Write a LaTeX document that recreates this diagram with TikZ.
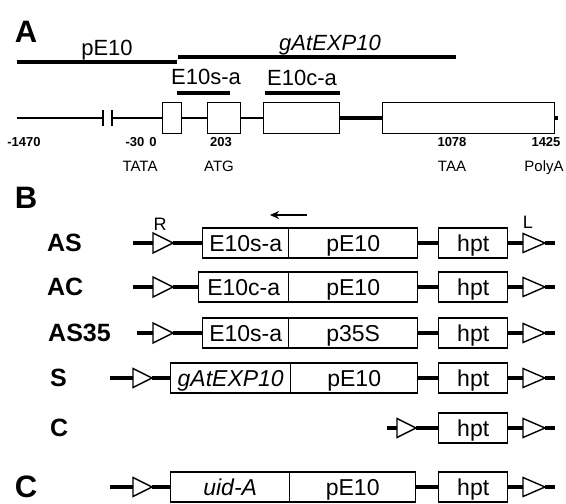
\documentclass[tikz,border=0pt]{standalone}
\usepackage{fontspec}
\setmainfont{Liberation Sans}
\usetikzlibrary{arrows.meta}
\newcommand\fs[1]{\fontsize{#1}{#1}\selectfont}
% triangle: name, x-left, y, width, half-height
\newcommand\tri[5]{%
  \coordinate (#1l) at (#2,#3);
  \coordinate (#1r) at ({#2+#4},#3);
  \draw[trist] (#2,{#3-#5}) -- ({#2+#4},#3) -- (#2,{#3+#5}) -- cycle;}
% right-hand end of a construct: prefix, y
\newcommand\rside[2]{%
  \coordinate (#1E) at (555,#2);
  \draw[connk] (#1h.east) -- (523,#2);
  \tri{#1R}{523}{#2}{22}{9.5}
  \draw[conn] (#1Rr) -- (#1E);}
\begin{document}
\begin{tikzpicture}[x=1pt,y=-1pt,
  bx/.style={draw, line width=1.4pt, inner sep=0pt, minimum height=30pt,
    text height=16.5pt, text depth=0pt, font=\fs{23}, anchor=west},
  ex/.style={draw, line width=1.4pt, inner sep=0pt, minimum height=31pt, anchor=west},
  conn/.style={line width=3.2pt},
  connk/.style={line width=4.2pt},
  glin/.style={line width=2.6pt},
  gthick/.style={line width=4.8pt},
  bar/.style={line width=3.2pt},
  trist/.style={draw, line width=1.4pt, fill=white, line join=miter},
  panel/.style={font=\fs{31}\bfseries, inner sep=0pt, anchor=base},
  rowl/.style={font=\fs{25}\bfseries, inner sep=0pt, anchor=west},
  lab/.style={font=\fs{22}, inner sep=0pt, anchor=base},
  num/.style={font=\fs{13}\bfseries, inner sep=0pt, anchor=base},
  site/.style={font=\fs{15}, inner sep=0pt, anchor=base},
  rl/.style={font=\fs{18}, inner sep=0pt, anchor=base}]
\useasboundingbox (0,0) rectangle (566,504);

%%%%% Panel A
\node[panel] (pA) at (26,42) {A};
\node[lab] (tpE) at (107,55) {pE10};
\node[lab] (tgA) at (330,50) {\itshape gAtEXP10};
\node[lab] (tEs) at (206,84) {E10s-a};
\node[lab] (tEc) at (302,85) {E10c-a};
\draw[bar] (17,62) -- (177,62);
\draw[bar] (178,57) -- (456,57);
\draw[bar] (177,93) -- (230,93);
\draw[bar] (265,93) -- (340,93);

\coordinate (gs) at (17,118);
\coordinate (b1) at (103,118);
\coordinate (b2) at (112,118);
\coordinate (ge) at (558,118);
\node[ex, minimum width=19pt] (e1) at (162,118) {};
\node[ex, minimum width=33pt] (e2) at (207,118) {};
\node[ex, minimum width=76pt] (e3) at (263,118) {};
\node[ex, minimum width=172pt] (e4) at (382,118) {};
\draw[glin] (gs) -- (b1);
\draw[glin] (b2) -- (e1.west);
\draw[line width=1.8pt] (103,110) -- (103,126) (112,110) -- (112,126);
\draw[glin] (e1.east) -- (e2.west);
\draw[glin] (e2.east) -- (e3.west);
\draw[gthick] (e3.east) -- (e4.west);
\draw[gthick] (e4.east) -- (ge);

\node[num] (n1) at (24,146) {-1470};
\node[num] (n2) at (135,146) {-30};
\node[num] (n3) at (153,146) {0};
\node[num] (n4) at (221,146) {203};
\node[num] (n5) at (452,146) {1078};
\node[num] (n6) at (546,146) {1425};
\node[site] (s1) at (140,171) {TATA};
\node[site] (s2) at (219,171) {ATG};
\node[site] (s3) at (452,171) {TAA};
\node[site] (s4) at (544,171) {PolyA};

%%%%% Panel B
\node[panel] (pB) at (26,208) {B};
\node[rl] (tR) at (160,230) {R};
\node[rl] (tL) at (528,228) {L};
\coordinate (arS) at (307,215);
\coordinate (arE) at (270,215);
\draw[line width=1.5pt, -{Stealth[length=9pt,width=8pt]}] (arS) -- (arE);

% AS
\node[rowl] (lAS) at (47,243) {AS};
\coordinate (asS) at (133,243);
\node[bx, minimum width=86pt] (as1) at (202,243) {E10s-a};
\node[bx, minimum width=129pt] (as2) at (288,243) {pE10};
\node[bx, minimum width=69pt] (ash) at (438,243) {hpt};
\tri{asL}{153}{243}{20}{10}
\draw[conn] (asS) -- (asLl);
\draw[conn] (asLr) -- (as1.west);
\draw[conn] (as2.east) -- (ash.west);
\rside{as}{243}

% AC
\node[rowl] (lAC) at (47,287) {AC};
\coordinate (acS) at (133,287);
\node[bx, minimum width=90pt] (ac1) at (198,287) {E10c-a};
\node[bx, minimum width=129pt] (ac2) at (288,287) {pE10};
\node[bx, minimum width=69pt] (ach) at (438,287) {hpt};
\tri{acL}{153}{287}{20}{10}
\draw[conn] (acS) -- (acLl);
\draw[conn] (acLr) -- (ac1.west);
\draw[conn] (ac2.east) -- (ach.west);
\rside{ac}{287}

% AS35
\node[rowl] (lAS35) at (48,333) {AS35};
\coordinate (a3S) at (137,333);
\node[bx, minimum width=86pt] (a31) at (202,333) {E10s-a};
\node[bx, minimum width=129pt] (a32) at (288,333) {p35S};
\node[bx, minimum width=69pt] (a3h) at (438,333) {hpt};
\tri{a3L}{153}{333}{20}{10}
\draw[conn] (a3S) -- (a3Ll);
\draw[conn] (a3Lr) -- (a31.west);
\draw[conn] (a32.east) -- (a3h.west);
\rside{a3}{333}

% S
\node[rowl] (lS) at (50,378) {S};
\coordinate (sS) at (110,378);
\node[bx, minimum width=120pt] (s1b) at (170,378) {\itshape gAtEXP10};
\node[bx, minimum width=127pt] (s2b) at (290,378) {pE10};
\node[bx, minimum width=69pt] (sh) at (438,378) {hpt};
\tri{sL}{133}{378}{19}{9.5}
\draw[conn] (sS) -- (sLl);
\draw[conn] (sLr) -- (s1b.west);
\draw[conn] (s2b.east) -- (sh.west);
\rside{s}{378}

% C (row)
\node[rowl] (lC) at (50,428) {C};
\coordinate (cS) at (387,428);
\node[bx, minimum width=69pt] (ch) at (438,428) {hpt};
\tri{cL}{397}{428}{19}{9.5}
\draw[conn] (cS) -- (cLl);
\draw[conn] (cLr) -- (ch.west);
\rside{c}{428}

%%%%% Panel C
\node[panel] (pC) at (26,497) {C};
\coordinate (uS) at (110,487);
\node[bx, minimum width=119pt] (u1) at (170,487) {\itshape uid-A};
\node[bx, minimum width=126pt] (u2) at (289,487) {pE10};
\node[bx, minimum width=69pt] (uh) at (438,487) {hpt};
\tri{uL}{133}{487}{19}{9.5}
\draw[conn] (uS) -- (uLl);
\draw[conn] (uLr) -- (u1.west);
\draw[conn] (u2.east) -- (uh.west);
\rside{u}{487}
\end{tikzpicture}
\end{document}
